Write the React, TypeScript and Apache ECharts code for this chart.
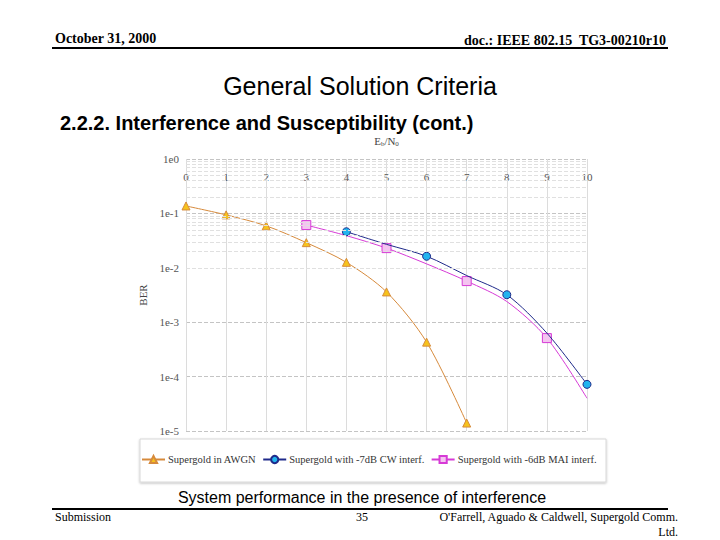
import React, { useEffect, useRef } from "react";
import * as echarts from "echarts";

const ebn0Awgn = [0, 1, 2, 3, 4, 5, 6, 7];
const berAwgn = [0.137, 0.094, 0.059, 0.029, 0.0126, 0.0036, 0.00043, 0.000014];

const ebn0Cw = [4, 5, 6, 7, 8, 9, 10];
const berCw = [0.046, 0.027, 0.0163, 0.0072, 0.0032, 0.00063, 0.000072];
const markCw = [true, false, true, false, true, false, true];

const ebn0Mai = [3, 4, 5, 6, 7, 8, 9, 10];
const berMai = [0.061, 0.039, 0.023, 0.0118, 0.0057, 0.0024, 0.00051, 0.00004];
const markMai = [true, false, true, false, true, false, true, false];

const seriesNames = [
  "Supergold in AWGN",
  "Supergold with -7dB CW interf.",
  "Supergold with -6dB MAI interf.",
];
const decades = [-5, -4, -3, -2, -1];
const minorMultipliers = [2, 3, 4, 5, 6, 7, 8, 9];

export default function App() {
  const ref = useRef<HTMLDivElement>(null);
  useEffect(() => {
    if (!ref.current) return;
    const chart = echarts.init(ref.current, null, { renderer: "svg" });
    const minorLines: number[] = [];
    decades.forEach((d) =>
      minorMultipliers.forEach((m) => minorLines.push(m * Math.pow(10, d)))
    );
    const serif = "Liberation Serif";
    const mk = (xs: number[], ys: number[], flags?: boolean[]) =>
      xs.map((x, i) =>
        flags && !flags[i]
          ? { value: [x, ys[i]], symbol: "none" }
          : { value: [x, ys[i]] }
      );

    chart.setOption({
      animation: false,
      backgroundColor: "#ffffff",
      grid: { left: 186, right: 133, top: 159, bottom: 109, containLabel: false },
      xAxis: {
        type: "value",
        position: "top",
        min: 0,
        max: 10,
        interval: 1,
        name: "{a|E}{s|b}{a|/N}{s|0}",
        nameLocation: "middle",
        nameGap: 12,
        nameTextStyle: {
          rich: {
            a: { fontFamily: serif, fontSize: 11, color: "#444" },
            s: { fontFamily: serif, fontSize: 7, color: "#444", padding: [6, 0, 0, 0] },
          },
        },
        axisLine: { show: false },
        axisTick: { show: false },
        axisLabel: {
          inside: true,
          margin: 12,
          fontFamily: serif,
          fontSize: 11,
          color: "#555",
        },
        splitLine: { show: true, lineStyle: { color: "#dcdcdc", width: 1 } },
      },
      yAxis: {
        type: "log",
        logBase: 10,
        min: 1e-5,
        max: 1,
        name: "BER",
        nameLocation: "middle",
        nameRotate: 90,
        nameGap: 36,
        nameTextStyle: { fontFamily: serif, fontSize: 11, color: "#444" },
        axisLine: { show: false },
        axisTick: { show: false },
        axisLabel: {
          fontFamily: serif,
          fontSize: 11,
          color: "#555",
          margin: 7,
          formatter: (v: number) => "1e" + Math.round(Math.log10(v)),
        },
        splitLine: {
          show: true,
          lineStyle: { color: "#c4c4c4", type: "dashed", width: 1 },
        },
      },
      legend: {
        bottom: 70,
        left: 136,
        itemGap: 6,
        itemWidth: 23,
        itemHeight: 9,
        textStyle: { fontFamily: serif, fontSize: 10.5, color: "#333", padding: [0, 0, 0, -2] },
        data: seriesNames,
      },
      series: [
        {
          name: seriesNames[0],
          type: "line",
          smooth: 0.3,
          symbol: "triangle",
          symbolSize: 8,
          lineStyle: { color: "#d68a3c", width: 1 },
          itemStyle: { color: "#f6c31c", borderColor: "#d68a3c", borderWidth: 1 },
          data: mk(ebn0Awgn, berAwgn),
          markLine: {
            silent: true,
            symbol: "none",
            label: { show: false },
            lineStyle: { color: "#e0e0e0", type: "dashed", width: 1 },
            data: minorLines.map((v) => ({ yAxis: v })),
          },
          z: 3,
        },
        {
          name: seriesNames[1],
          type: "line",
          smooth: 0.3,
          symbol: "circle",
          symbolSize: 8,
          showAllSymbol: true,
          lineStyle: { color: "#1f2a8a", width: 1 },
          itemStyle: { color: "#22b4ee", borderColor: "#1f2a8a", borderWidth: 1 },
          data: mk(ebn0Cw, berCw, markCw),
          z: 4,
        },
        {
          name: seriesNames[2],
          type: "line",
          smooth: 0.3,
          symbol: "rect",
          symbolSize: 9,
          showAllSymbol: true,
          lineStyle: { color: "#d63ad6", width: 1 },
          itemStyle: { color: "#f4c4f0", borderColor: "#d63ad6", borderWidth: 1 },
          data: mk(ebn0Mai, berMai, markMai),
          z: 3,
        },
      ],
      graphic: [
        {
          type: "rect",
          z: -1,
          shape: { x: 140, y: 439, width: 466, height: 43 },
          style: {
            fill: "#ffffff",
            stroke: "#d8d8d8",
            lineWidth: 1,
            shadowColor: "rgba(0,0,0,0.25)",
            shadowBlur: 2,
            shadowOffsetY: 1,
          },
        },
        {
          type: "text",
          style: {
            text: "October 31, 2000",
            x: 55,
            y: 38,
            font: "bold 14px 'Liberation Serif'",
            fill: "#000",
            textVerticalAlign: "middle",
          },
        },
        {
          type: "text",
          style: {
            text: "doc.: IEEE 802.15  TG3-00210r10",
            x: 666,
            y: 40,
            font: "bold 14px 'Liberation Serif'",
            fill: "#000",
            textAlign: "right",
            textVerticalAlign: "middle",
          },
        },
        {
          type: "line",
          shape: { x1: 52, y1: 48, x2: 668, y2: 48 },
          style: { stroke: "#000", lineWidth: 2 },
        },
        {
          type: "text",
          style: {
            text: "General Solution Criteria",
            x: 360,
            y: 86,
            font: "25px 'Liberation Sans'",
            fill: "#000",
            textAlign: "center",
            textVerticalAlign: "middle",
          },
        },
        {
          type: "text",
          style: {
            text: "2.2.2. Interference and Susceptibility (cont.)",
            x: 60,
            y: 123,
            font: "bold 20px 'Liberation Sans'",
            fill: "#000",
            textVerticalAlign: "middle",
          },
        },
        {
          type: "text",
          style: {
            text: "System performance in the presence of interference",
            x: 362,
            y: 497,
            font: "16px 'Liberation Sans'",
            fill: "#000",
            textAlign: "center",
            textVerticalAlign: "middle",
          },
        },
        {
          type: "line",
          shape: { x1: 52, y1: 509, x2: 668, y2: 509 },
          style: { stroke: "#000", lineWidth: 2 },
        },
        {
          type: "text",
          style: {
            text: "Submission",
            x: 55,
            y: 517,
            font: "12px 'Liberation Serif'",
            fill: "#000",
            textVerticalAlign: "middle",
          },
        },
        {
          type: "text",
          style: {
            text: "35",
            x: 362,
            y: 517,
            font: "12px 'Liberation Serif'",
            fill: "#000",
            textAlign: "center",
            textVerticalAlign: "middle",
          },
        },
        {
          type: "text",
          style: {
            text: "O'Farrell, Aguado & Caldwell, Supergold Comm.",
            x: 678,
            y: 517,
            font: "12px 'Liberation Serif'",
            fill: "#000",
            textAlign: "right",
            textVerticalAlign: "middle",
          },
        },
        {
          type: "text",
          style: {
            text: "Ltd.",
            x: 678,
            y: 532,
            font: "12px 'Liberation Serif'",
            fill: "#000",
            textAlign: "right",
            textVerticalAlign: "middle",
          },
        },
      ],
    });
    return () => chart.dispose();
  }, []);
  return (
    <div
      ref={ref}
      style={{ position: "absolute", left: 0, top: 0, width: 720, height: 540 }}
    />
  );
}
